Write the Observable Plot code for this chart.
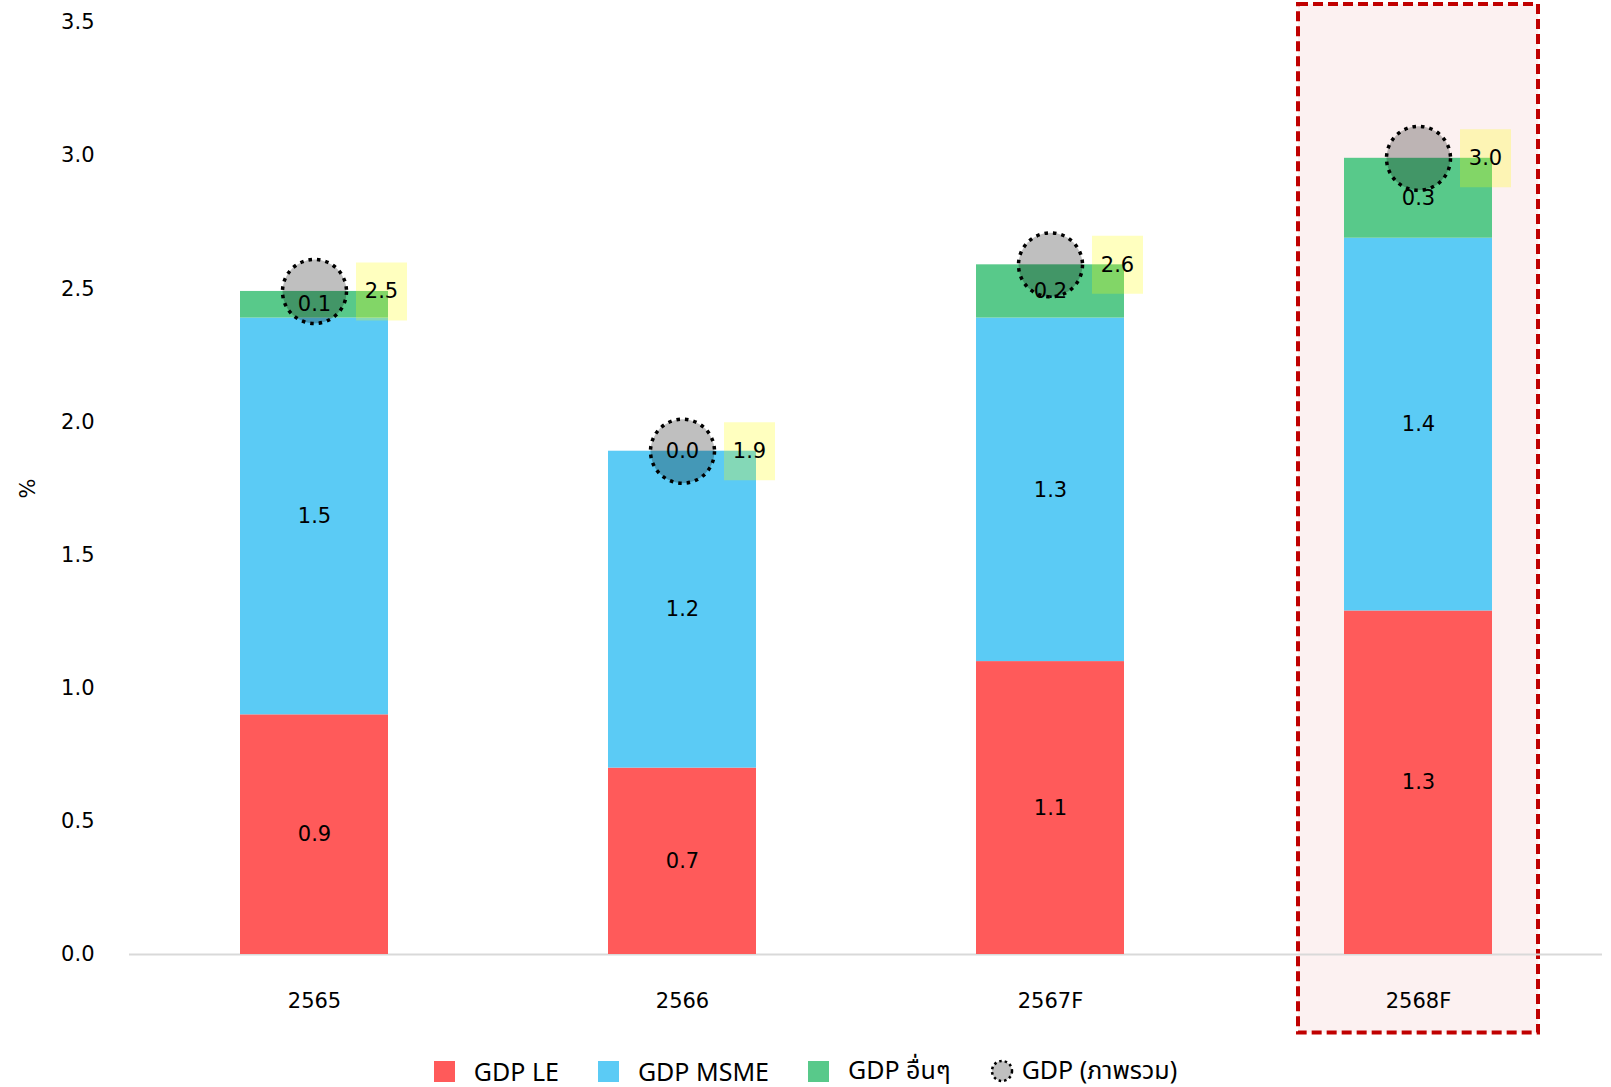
<!DOCTYPE html>
<html>
<head>
<meta charset="utf-8">
<script src="https://cdn.jsdelivr.net/npm/d3@7"></script>
<script src="https://cdn.jsdelivr.net/npm/@observablehq/plot@0.6"></script>
<style>
  html, body { margin: 0; padding: 0; background: #fff; }
  #chart { position: relative; width: 1611px; }
  #legend {
    display: flex; justify-content: center; align-items: center; gap: 39px;
    width: 1611px; height: 40px; margin-top: 6px;
    font-family: "Noto Sans", "Noto Sans Thai", "DejaVu Sans", sans-serif; font-size: 25px; color: #000;
  }
  .item { display: flex; align-items: center; }
  .sw { width: 21px; height: 21px; margin-right: 19px; }
  .ic { margin-right: 8px; }
</style>
</head>
<body>
<div id="chart"></div>
<div id="legend"></div>
<script>
const years = ["2565", "2566", "2567F", "2568F"];
const gdpLE = [0.9, 0.7, 1.1, 1.29];
const gdpMSME = [1.49, 1.19, 1.29, 1.4];
const gdpOther = [0.1, 0.0, 0.2, 0.3];
const gdpTotal = [2.49, 1.89, 2.59, 2.99];
const seriesNames = ["GDP LE", "GDP MSME", "GDP อื่นๆ"];
const totalName = "GDP (ภาพรวม)";
const seriesColors = ["#FF5A5A", "#5BCBF5", "#58C98A"];
const yTicks = [0, 0.5, 1, 1.5, 2, 2.5, 3, 3.5];
const highlightYear = "2568F";

const seriesValues = [gdpLE, gdpMSME, gdpOther];
const segments = [];
seriesNames.forEach((s, si) => years.forEach((y, yi) => segments.push({year: y, series: s, value: seriesValues[si][yi]})));
const totals = years.map((y, i) => ({year: y, total: gdpTotal[i]}));
const fmt = d3.format(".1f");
const font = "'DejaVu Sans', Verdana, sans-serif";

const boxSymbol = { draw(ctx) { ctx.rect(-25.5, -29, 51, 58); } };

const chart = Plot.plot({
  width: 1611,
  height: 1045,
  marginLeft: 129,
  marginRight: 9,
  marginTop: 22,
  marginBottom: 91,
  style: { fontFamily: font, fontSize: "21px", color: "#000", background: "transparent" },
  x: { type: "band", domain: years, padding: 0, label: null },
  y: { domain: [0, 3.5], label: null },
  color: { domain: seriesNames, range: seriesColors },
  marks: [
    Plot.barY([highlightYear], { x: d => d, y1: -0.295, y2: 3.568, fill: "#FCF1F1", stroke: "#C00000", strokeWidth: 4, strokeDasharray: "10,5", insetLeft: 64, insetRight: 64 }),
    Plot.ruleY([0], { stroke: "#D9D9D9", strokeWidth: 2 }),
    Plot.barY(segments, Plot.stackY({ x: "year", y: "value", fill: "series", insetLeft: 110, insetRight: 110, order: null })),
    Plot.dot(totals, { x: "year", y: "total", symbol: boxSymbol, fill: "#FFFF00", fillOpacity: 0.25, dx: 67 }),
    Plot.dot(totals, { x: "year", y: "total", r: 32, fill: "black", fillOpacity: 0.25, stroke: "black", strokeWidth: 3.5, strokeDasharray: "3.5,5" }),
    Plot.text(segments, Plot.stackY({ x: "year", y: "value", text: d => fmt(d.value), fill: "black", fontSize: 21, order: null })),
    Plot.text(totals, { x: "year", y: "total", text: d => fmt(d.total), dx: 67, fill: "black", fontSize: 21 }),
    Plot.axisY({ ticks: yTicks, tickFormat: d => fmt(d), tickSize: 0, tickPadding: 35, fontSize: 21, label: "%", labelAnchor: "center", labelArrow: "none", labelOffset: 109 }),
    Plot.axisX({ tickSize: 0, tickPadding: 39, fontSize: 21, label: null })
  ]
});
document.getElementById("chart").appendChild(chart);

const legend = document.getElementById("legend");
seriesNames.forEach((s, i) => {
  const it = document.createElement("div");
  it.className = "item";
  it.innerHTML = `<div class="sw" style="background:${seriesColors[i]}"></div><span>${s}</span>`;
  legend.appendChild(it);
});
const it = document.createElement("div");
it.className = "item";
it.innerHTML = `<svg class="ic" width="24" height="24" viewBox="0 0 24 24"><circle cx="12" cy="12" r="10" fill="#bfbfbf" stroke="#000" stroke-width="2.5" stroke-dasharray="2.5,3"/></svg><span>${totalName}</span>`;
legend.appendChild(it);
</script>
</body>
</html>
